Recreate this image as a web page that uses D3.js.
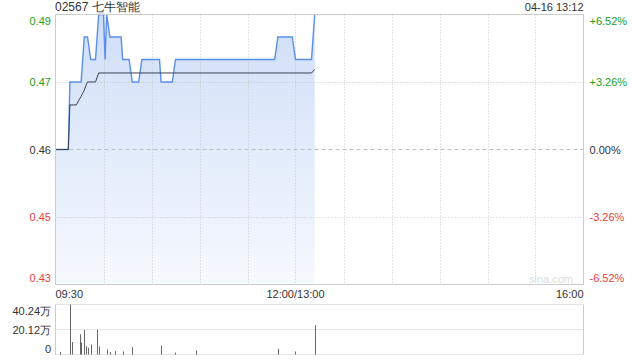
<!DOCTYPE html>
<html>
<head>
<meta charset="utf-8">
<script src="https://cdn.jsdelivr.net/npm/d3@7/dist/d3.min.js"></script>
<style>
  body { margin: 0; background: #fff; }
  text { font-family: "Liberation Sans", Arial, sans-serif; font-size: 11px; }
</style>
</head>
<body>
<div id="chart"></div>
<script>
var title = "02567 七牛智能";
var stamp = "04-16 13:12";
var prevClose = 0.46;

// minute line, breakpoints (time, price)
var priceTimes = ["09:30","09:38","09:39","09:46","09:48","09:50","09:52","09:55","09:57","10:00","10:01","10:02","10:04","10:11","10:12","10:16","10:18","10:22","10:24","10:35","10:36","10:43","10:45","11:47","11:49","11:58","13:00","13:10","13:12"];
var prices     = [0.46,0.46,0.475,0.475,0.485,0.485,0.48,0.48,0.49,0.49,0.48,0.49,0.485,0.485,0.48,0.48,0.475,0.475,0.48,0.48,0.475,0.475,0.48,0.48,0.485,0.485,0.48,0.48,0.49];

var avgTimes  = ["09:30","09:38","09:39","09:43","09:45","09:46","09:47","09:48","09:49","09:50","09:55","09:57","13:10","13:12"];
var avgPrices = [0.46,0.46,0.4699,0.4699,0.4712,0.4718,0.4725,0.4732,0.4742,0.475,0.475,0.477,0.477,0.4778];

// volume, in 万
var volTimes = ["09:33","09:39","09:40","09:45","09:46","09:48","09:49","09:50","09:52","09:56","09:57","10:02","10:04","10:07","10:12","10:18","10:36","10:45","10:58","11:49","13:00","13:12"];
var volumes  = [2.0,40.24,10.0,16.3,9.5,19.8,6.7,5.4,8.1,19.8,6.5,4.0,1.9,2.7,2.4,5.9,7.3,1.6,3.3,4.6,2.4,23.6];

var priceLabels = ["0.49","0.47","0.46","0.45","0.43"];
var pctLabels   = ["+6.52%","+3.26%","0.00%","-3.26%","-6.52%"];
var pctSteps    = [0.0652,0.0326,0,-0.0326,-0.0652];
var timeLabels  = ["09:30","12:00/13:00","16:00"];
var volLabels   = ["40.24万","20.12万","0"];
var volTicks    = [40.24,20.12,0];

function toMinute(s) {
  var p = s.split(":"), m = (+p[0]) * 60 + (+p[1]);
  if (m >= 13 * 60) return m - 13 * 60 + 150;
  return m - (9 * 60 + 30);
}

function drawChart() {
  var width = 640, height = 360;
  var pL = 55.5, pR = 583.5, pT = 14.5, pB = 284.5;
  var vT = 304.5, vB = 354.5;
  var green = "#1aa01a", red = "#f03c3c", grid = "#c8c8c8";

  var svg = d3.select("#chart").append("svg")
    .attr("width", width).attr("height", height);

  var x = d3.scaleLinear().domain([0, 330]).range([pL, pR]);
  var y = d3.scaleLinear().domain([prevClose * (1 - 0.0652), prevClose * (1 + 0.0652)]).range([pB, pT]);
  var yv = d3.scaleLinear().domain([0, 40.24]).range([vB, vT]);

  var grad = svg.append("defs").append("linearGradient")
    .attr("id", "fillGrad").attr("gradientUnits", "userSpaceOnUse")
    .attr("x1", 0).attr("y1", pT).attr("x2", 0).attr("y2", pB);
  grad.append("stop").attr("offset", "0%").attr("stop-color", "#cfdef8");
  grad.append("stop").attr("offset", "100%").attr("stop-color", "#f6f9fe");

  var pts = priceTimes.map(function(t, i) { return [toMinute(t), prices[i]]; });
  var avgPts = avgTimes.map(function(t, i) { return [toMinute(t), avgPrices[i]]; });

  // area first, grid goes over it
  svg.append("path").datum(pts)
    .attr("fill", "url(#fillGrad)")
    .attr("d", d3.area().x(function(d) { return x(d[0]); }).y0(pB).y1(function(d) { return y(d[1]); }));

  // vertical grid every half hour
  var halfHours = d3.range(30, 330, 30);
  svg.append("g").selectAll("line").data(halfHours).enter().append("line")
    .attr("x1", function(d) { return Math.round(x(d)) + 0.5; })
    .attr("x2", function(d) { return Math.round(x(d)) + 0.5; })
    .attr("y1", pT).attr("y2", pB)
    .attr("stroke", grid).attr("stroke-dasharray", "1,2");

  // horizontal grid
  var levels = pctSteps.map(function(p) { return prevClose * (1 + p); });
  svg.append("g").selectAll("line").data(levels.slice(1, 4)).enter().append("line")
    .attr("x1", pL).attr("x2", pR)
    .attr("y1", function(d) { return Math.round(y(d)) + 0.5; })
    .attr("y2", function(d) { return Math.round(y(d)) + 0.5; })
    .attr("stroke", function(d, i) { return i == 1 ? "#bdbdbd" : grid; })
    .attr("stroke-dasharray", function(d, i) { return i == 1 ? "4,3" : "1,2"; });

  svg.append("path").datum(pts)
    .attr("fill", "none").attr("stroke", "#5a8ee8").attr("stroke-width", 1.4)
    .attr("d", d3.line().x(function(d) { return x(d[0]); }).y(function(d) { return y(d[1]); }));

  svg.append("path").datum(avgPts)
    .attr("fill", "none").attr("stroke", "#3b4356").attr("stroke-width", 1)
    .attr("d", d3.line().x(function(d) { return x(d[0]); }).y(function(d) { return y(d[1]); }));

  // frame
  svg.append("rect").attr("x", pL).attr("y", pT)
    .attr("width", pR - pL).attr("height", pB - pT)
    .attr("fill", "none").attr("stroke", "#cccccc");

  // left price axis
  var axL = svg.append("g").attr("transform", "translate(" + (pL - 4.5) + ",0)")
    .call(d3.axisLeft(y).tickValues(levels).tickSize(0).tickPadding(0)
      .tickFormat(function(d, i) { return priceLabels[i]; }));
  axL.select(".domain").remove();
  axL.selectAll("text")
    .attr("fill", function(d, i) { return i < 2 ? green : (i == 2 ? "#333" : red); })
    .attr("dy", function(d, i) { return i == 0 ? "0.9em" : (i == 4 ? "-0.3em" : "0.32em"); })
    .style("font-size", "11px").style("font-family", "Liberation Sans, Arial, sans-serif");

  // right percent axis
  var axR = svg.append("g").attr("transform", "translate(" + (pR + 6) + ",0)")
    .call(d3.axisRight(y).tickValues(levels).tickSize(0).tickPadding(0)
      .tickFormat(function(d, i) { return pctLabels[i]; }));
  axR.select(".domain").remove();
  axR.selectAll("text")
    .attr("fill", function(d, i) { return i < 2 ? green : (i == 2 ? "#333" : red); })
    .attr("dy", function(d, i) { return i == 0 ? "0.9em" : (i == 4 ? "-0.3em" : "0.32em"); })
    .style("font-size", "11px").style("font-family", "Liberation Sans, Arial, sans-serif");

  // time labels
  var tPos = [0, 150, 330];
  svg.append("g").selectAll("text").data(timeLabels).enter().append("text")
    .attr("x", function(d, i) { return x(tPos[i]); })
    .attr("y", 298)
    .attr("text-anchor", function(d, i) { return i == 0 ? "start" : (i == 1 ? "middle" : "end"); })
    .attr("fill", "#333")
    .text(function(d) { return d; });

  // title + time stamp
  svg.append("text").attr("x", pL - 0.5).attr("y", 11).attr("fill", "#333")
    .style("font-size", "12px").text(title);
  svg.append("text").attr("x", pR).attr("y", 11).attr("fill", "#333")
    .attr("text-anchor", "end").text(stamp);

  svg.append("text").attr("x", 573).attr("y", 283).attr("fill", "#dcdcdc")
    .attr("text-anchor", "end").style("font-size", "11px").text("sina.com");

  // volume panel
  svg.append("g").selectAll("line").data(volTicks).enter().append("line")
    .attr("x1", pL).attr("x2", pR)
    .attr("y1", function(d) { return Math.round(yv(d)) - 0.5; })
    .attr("y2", function(d) { return Math.round(yv(d)) - 0.5; })
    .attr("stroke", grid).attr("stroke-dasharray", "1,1");
  svg.append("line").attr("x1", pL).attr("x2", pL).attr("y1", vT).attr("y2", vB).attr("stroke", "#cccccc");
  svg.append("line").attr("x1", pR).attr("x2", pR).attr("y1", vT).attr("y2", vB).attr("stroke", "#cccccc");

  svg.append("g").selectAll("rect").data(volumes).enter().append("rect")
    .attr("x", function(d, i) { return Math.round(x(toMinute(volTimes[i]))); })
    .attr("y", function(d) { return yv(d); })
    .attr("width", 1)
    .attr("height", function(d) { return yv(0) - yv(d); })
    .attr("fill", "#666");

  var axV = svg.append("g").attr("transform", "translate(" + (pL - 4.5) + ",0)")
    .call(d3.axisLeft(yv).tickValues(volTicks).tickSize(0).tickPadding(0)
      .tickFormat(function(d, i) { return volLabels[i]; }));
  axV.select(".domain").remove();
  axV.selectAll("text").attr("fill", "#333")
    .attr("dy", function(d, i) { return i == 0 ? "0.9em" : (i == 2 ? "-0.2em" : "0.32em"); })
    .style("font-size", "11px").style("font-family", "Liberation Sans, Arial, sans-serif");
}

drawChart();
</script>
</body>
</html>
